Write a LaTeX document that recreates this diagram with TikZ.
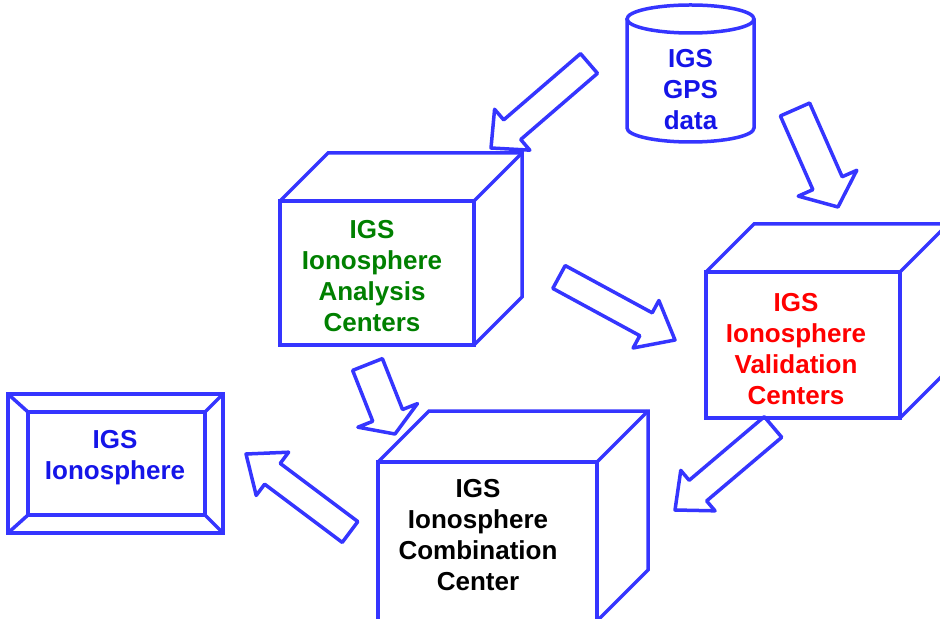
\documentclass[tikz,border=0pt]{standalone}
\usepackage{fontspec}
\setmainfont{Liberation Sans}
\usetikzlibrary{calc}
\definecolor{edgeblue}{HTML}{3535FF}
\definecolor{textblue}{HTML}{1515E8}
\definecolor{textgreen}{HTML}{008000}
\definecolor{textred}{HTML}{FF0000}

% hollow block arrow: tail, tip, shaft half width, head half width, head length
\newcommand{\blockarrow}[5]{%
  \coordinate (hb) at ($(#2)!#5!(#1)$);
  \draw[fatarrow] ($(#1)!#3!90:(#2)$) -- ($(hb)!#3!90:(#2)$) -- ($(hb)!#4!90:(#2)$)
    -- (#2) -- ($(hb)!#4!-90:(#2)$) -- ($(hb)!#3!-90:(#2)$) -- ($(#1)!#3!-90:(#2)$) -- cycle;}
% top and side faces behind a front face node
\newcommand{\cubeback}[2]{%
  \draw[edge] (#1.north west) -- ++(#2,-#2) -| ($(#1.south east)+(#2,-#2)$) -- (#1.south east);
  \draw[edge] (#1.north east) -- ++(#2,-#2);}

\begin{document}
\begin{tikzpicture}[x=0.5pt, y=-0.5pt,
  font=\fontsize{13}{15.5}\selectfont\bfseries,
  edge/.style={draw=edgeblue, line width=1.75pt},
  cubeface/.style={edge, rectangle, outer sep=0pt, inner sep=0pt, align=center},
  boxtext/.style={align=center, inner sep=0pt},
  fatarrow/.style={draw=edgeblue, line width=1.75pt, line join=round}
]
\clip (0,0) rectangle (940,619);

% -- the three centres, drawn as boxes
\node[cubeface, minimum width=97pt, minimum height=72pt] (ana) at (377,273) {};
\cubeback{ana}{48}
\node[boxtext, text=textgreen] (anaText) at (372,276) {IGS\\Ionosphere\\Analysis\\Centers};
\node[cubeface, minimum width=97pt, minimum height=73pt] (val) at (803,345) {};
\cubeback{val}{48}
\node[boxtext, text=textred] (valText) at (796,349) {IGS\\Ionosphere\\Validation\\Centers};
\node[cubeface, minimum width=109.5pt, minimum height=79.5pt] (comb) at (487.5,541.5) {};
\cubeback{comb}{51}
\node[boxtext, text=black] (combText) at (478,535) {IGS\\Ionosphere\\Combination\\Center};

% -- framed product
\node[cubeface, minimum width=107.5pt, minimum height=69.5pt] (ionoframe) at (115.5,463.5) {};
\node[cubeface, minimum width=88.5pt, minimum height=51.5pt] (iono) at (116.5,463.5) {};
\foreach \c in {north west,north east,south west,south east}
  \draw[edge] (ionoframe.\c) -- (iono.\c);
\node[boxtext, text=textblue] (ionoText) at (115,458) {IGS\\Ionosphere};

% -- data store
\node[boxtext, text=textblue] (gps) at (690.5,90) {IGS\\GPS\\data};
\draw[edge] (627,19) -- (627,128) arc[start angle=180, end angle=360, x radius=31.75pt, y radius=7pt] -- (754,19);
\draw[edge] (690.5,19) ellipse[x radius=31.75pt, y radius=7pt];

% -- flow arrows
\coordinate (gps2anaA) at (589,63.5);   \coordinate (gps2anaB) at (491,148);
\coordinate (gps2valA) at (795,109.5);  \coordinate (gps2valB) at (838,207);
\coordinate (ana2valA) at (559,277);    \coordinate (ana2valB) at (675,340);
\coordinate (ana2combA) at (367.5,364.5); \coordinate (ana2combB) at (395,434);
\coordinate (val2combA) at (773,427);   \coordinate (val2combB) at (675,510);
\coordinate (comb2ionoA) at (350,532);  \coordinate (comb2ionoB) at (246,454);
\blockarrow{gps2anaA}{gps2anaB}{6.5pt}{13.5pt}{14pt}
\blockarrow{gps2valA}{gps2valB}{8pt}{16pt}{13pt}
\blockarrow{ana2valA}{ana2valB}{6.5pt}{13.5pt}{16.5pt}
\blockarrow{ana2combA}{ana2combB}{8pt}{16pt}{10pt}
\blockarrow{val2combA}{val2combB}{6.75pt}{13.25pt}{15pt}
\blockarrow{comb2ionoA}{comb2ionoB}{6.5pt}{13.5pt}{16.5pt}
\end{tikzpicture}
\end{document}
